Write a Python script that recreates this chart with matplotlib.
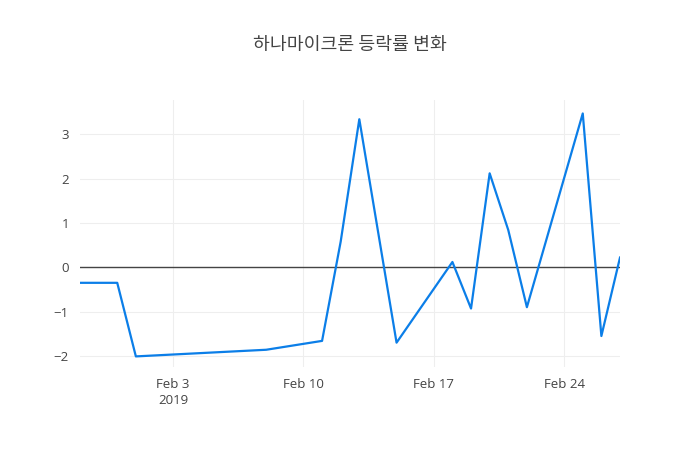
import matplotlib
matplotlib.use('Agg')
import matplotlib.pyplot as plt
import pandas as pd

# daily change rate (%)
dates = ['2019-01-29', '2019-01-31', '2019-02-01', '2019-02-08', '2019-02-11',
         '2019-02-12', '2019-02-13', '2019-02-14', '2019-02-15', '2019-02-18',
         '2019-02-19', '2019-02-20', '2019-02-21', '2019-02-22', '2019-02-25',
         '2019-02-26', '2019-02-27']
change = [-0.35, -0.35, -2.01, -1.86, -1.66,
          0.58, 3.34, 0.82, -1.70, 0.12,
          -0.93, 2.12, 0.84, -0.90, 3.47,
          -1.55, 0.22]
xticks = ['2019-02-03', '2019-02-10', '2019-02-17', '2019-02-24']
xtick_labels = ['Feb 3\n2019', 'Feb 10', 'Feb 17', 'Feb 24']
yticks = [-2, -1, 0, 1, 2, 3]
ytick_labels = ['\u22122', '\u22121', '0', '1', '2', '3']
title = '하나마이크론 등락률 변화'

plt.rcParams['font.family'] = ['Noto Sans CJK KR', 'DejaVu Sans']

x = pd.to_datetime(dates)

fig = plt.figure(figsize=(7, 4.5), dpi=100)
ax = fig.add_axes([80 / 700, 1 - 367 / 450, 540 / 700, 267 / 450])

ax.plot(x, change, color='#0b7ee8', linewidth=1.6, zorder=3)
ax.axhline(0, color='#444444', linewidth=1, zorder=2)

ax.set_xlim(x[0], x[-1])
ax.set_ylim(-2.249, 3.774)

ax.set_xticks(pd.to_datetime(xticks))
ax.set_xticklabels(xtick_labels, family=['Open Sans', 'DejaVu Sans'])
ax.set_yticks(yticks)
ax.set_yticklabels(ytick_labels, family=['Open Sans', 'DejaVu Sans'])
ax.tick_params(length=0, labelsize=9.5, colors='#444444', pad=8)
for lbl in ax.get_xticklabels():
    lbl.set_linespacing(1.3)

ax.grid(True, color='#eeeeee', linewidth=0.8, zorder=0)
for s in ax.spines.values():
    s.set_visible(False)

fig.text(0.5, 1 - 45 / 450, title, ha='center', va='center',
         fontsize=13.2, color='#444444')

fig.savefig('out.png', dpi=100)
